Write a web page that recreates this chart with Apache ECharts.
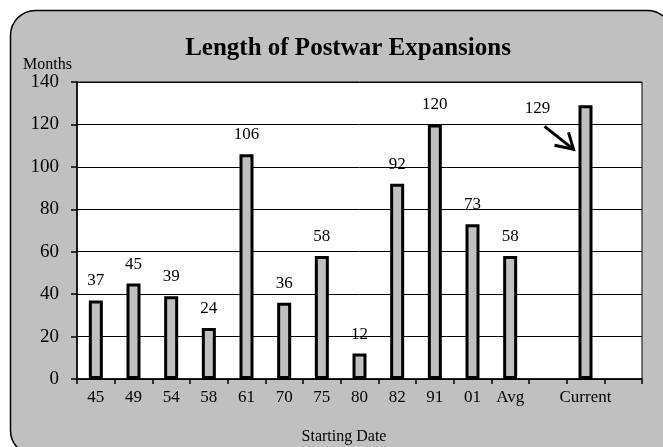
<!DOCTYPE html>
<html><head><meta charset="utf-8">
<script src="https://cdn.jsdelivr.net/npm/echarts@6/dist/echarts.min.js"></script>
<style>html,body{margin:0;padding:0;background:#fff}#c{width:663px;height:447px}</style>
</head><body><div id="c"></div>
<script>
var categories = ['45','49','54','58','61','70','75','80','82','91','01','Avg','','Current',''];
var months = [37,45,39,24,106,36,58,12,92,120,73,58,null,129,null];
var yTicks = [0,20,40,60,80,100,120,140];
var titleText = 'Length of Postwar Expansions';
var yName = 'Months';
var xName = 'Starting Date';
var FONT = '"Liberation Serif", "Times New Roman", serif';

var chart = echarts.init(document.getElementById('c'), null, {renderer:'canvas'});
var data = months.map(function(v, i){
  if (v === null) return null;
  var item = {value: v};
  if (categories[i] === 'Current') {
    item.label = {offset: [-48, 23]};
  }
  return item;
});
chart.setOption({
  animation: false,
  backgroundColor: '#fff',
  grid: {left: 77, top: 82, right: 21, bottom: 68, show: true, borderColor: '#000', borderWidth: 1, backgroundColor: '#fff'},
  xAxis: {
    type: 'category', data: categories,
    axisLine: {lineStyle: {color: '#000', width: 1.5}},
    axisTick: {show: true, length: 5, interval: 0, lineStyle: {color: '#000', width: 1.5}},
    axisLabel: {interval: 0, color: '#000', fontFamily: FONT, fontSize: 17, margin: 10},
    splitLine: {show: false}
  },
  yAxis: {
    type: 'value', min: yTicks[0], max: yTicks[yTicks.length-1], interval: 20,
    axisLine: {show: true, lineStyle: {color: '#000', width: 1.5}},
    axisTick: {show: true, length: 6, lineStyle: {color: '#000', width: 1.5}},
    axisLabel: {color: '#000', fontFamily: FONT, fontSize: 19, margin: 18},
    splitLine: {show: true, lineStyle: {color: '#000', width: 1}}
  },
  series: [{
    type: 'bar', data: data, barWidth: 14,
    itemStyle: {color: '#c0c0c0', borderColor: '#000', borderWidth: 3},
    label: {show: true, position: 'top', distance: 11, color: '#000', fontFamily: FONT, fontSize: 17}
  }]
});

function drawExtras(){
  var idx = categories.indexOf('Current');
  var p = chart.convertToPixel({seriesIndex: 0}, [idx, months[idx]]);
  var tip = [p[0] - 12, p[1] + 44];
  var start = [p[0] - 41, p[1] + 21];
  chart.setOption({
    graphic: [
      {type: 'rect', z: -10, silent: true, shape: {x: 10.5, y: 10.5, width: 662, height: 445, r: 25},
       style: {fill: '#c0c0c0', stroke: '#000', lineWidth: 1.5}},
      {type: 'text', z: 10, x: 348, y: 49, style: {text: titleText, font: 'bold 25px ' + FONT, fill: '#000', textAlign: 'center', textVerticalAlign: 'middle'}},
      {type: 'text', z: 10, x: 23, y: 65, style: {text: yName, font: '16px ' + FONT, fill: '#000', textAlign: 'left', textVerticalAlign: 'middle'}},
      {type: 'text', z: 10, x: 344, y: 437, style: {text: xName, font: '16px ' + FONT, fill: '#000', textAlign: 'center', textVerticalAlign: 'middle'}},
      {type: 'polyline', z: 10, shape: {points: [start, tip]}, style: {stroke: '#000', lineWidth: 3, fill: null}},
      {type: 'polyline', z: 10, shape: {points: [[tip[0]-19, tip[1]-4], tip, [tip[0]-5, tip[1]-17]]}, style: {stroke: '#000', lineWidth: 3, fill: null}}
    ]
  });
}
drawExtras();
</script></body></html>
